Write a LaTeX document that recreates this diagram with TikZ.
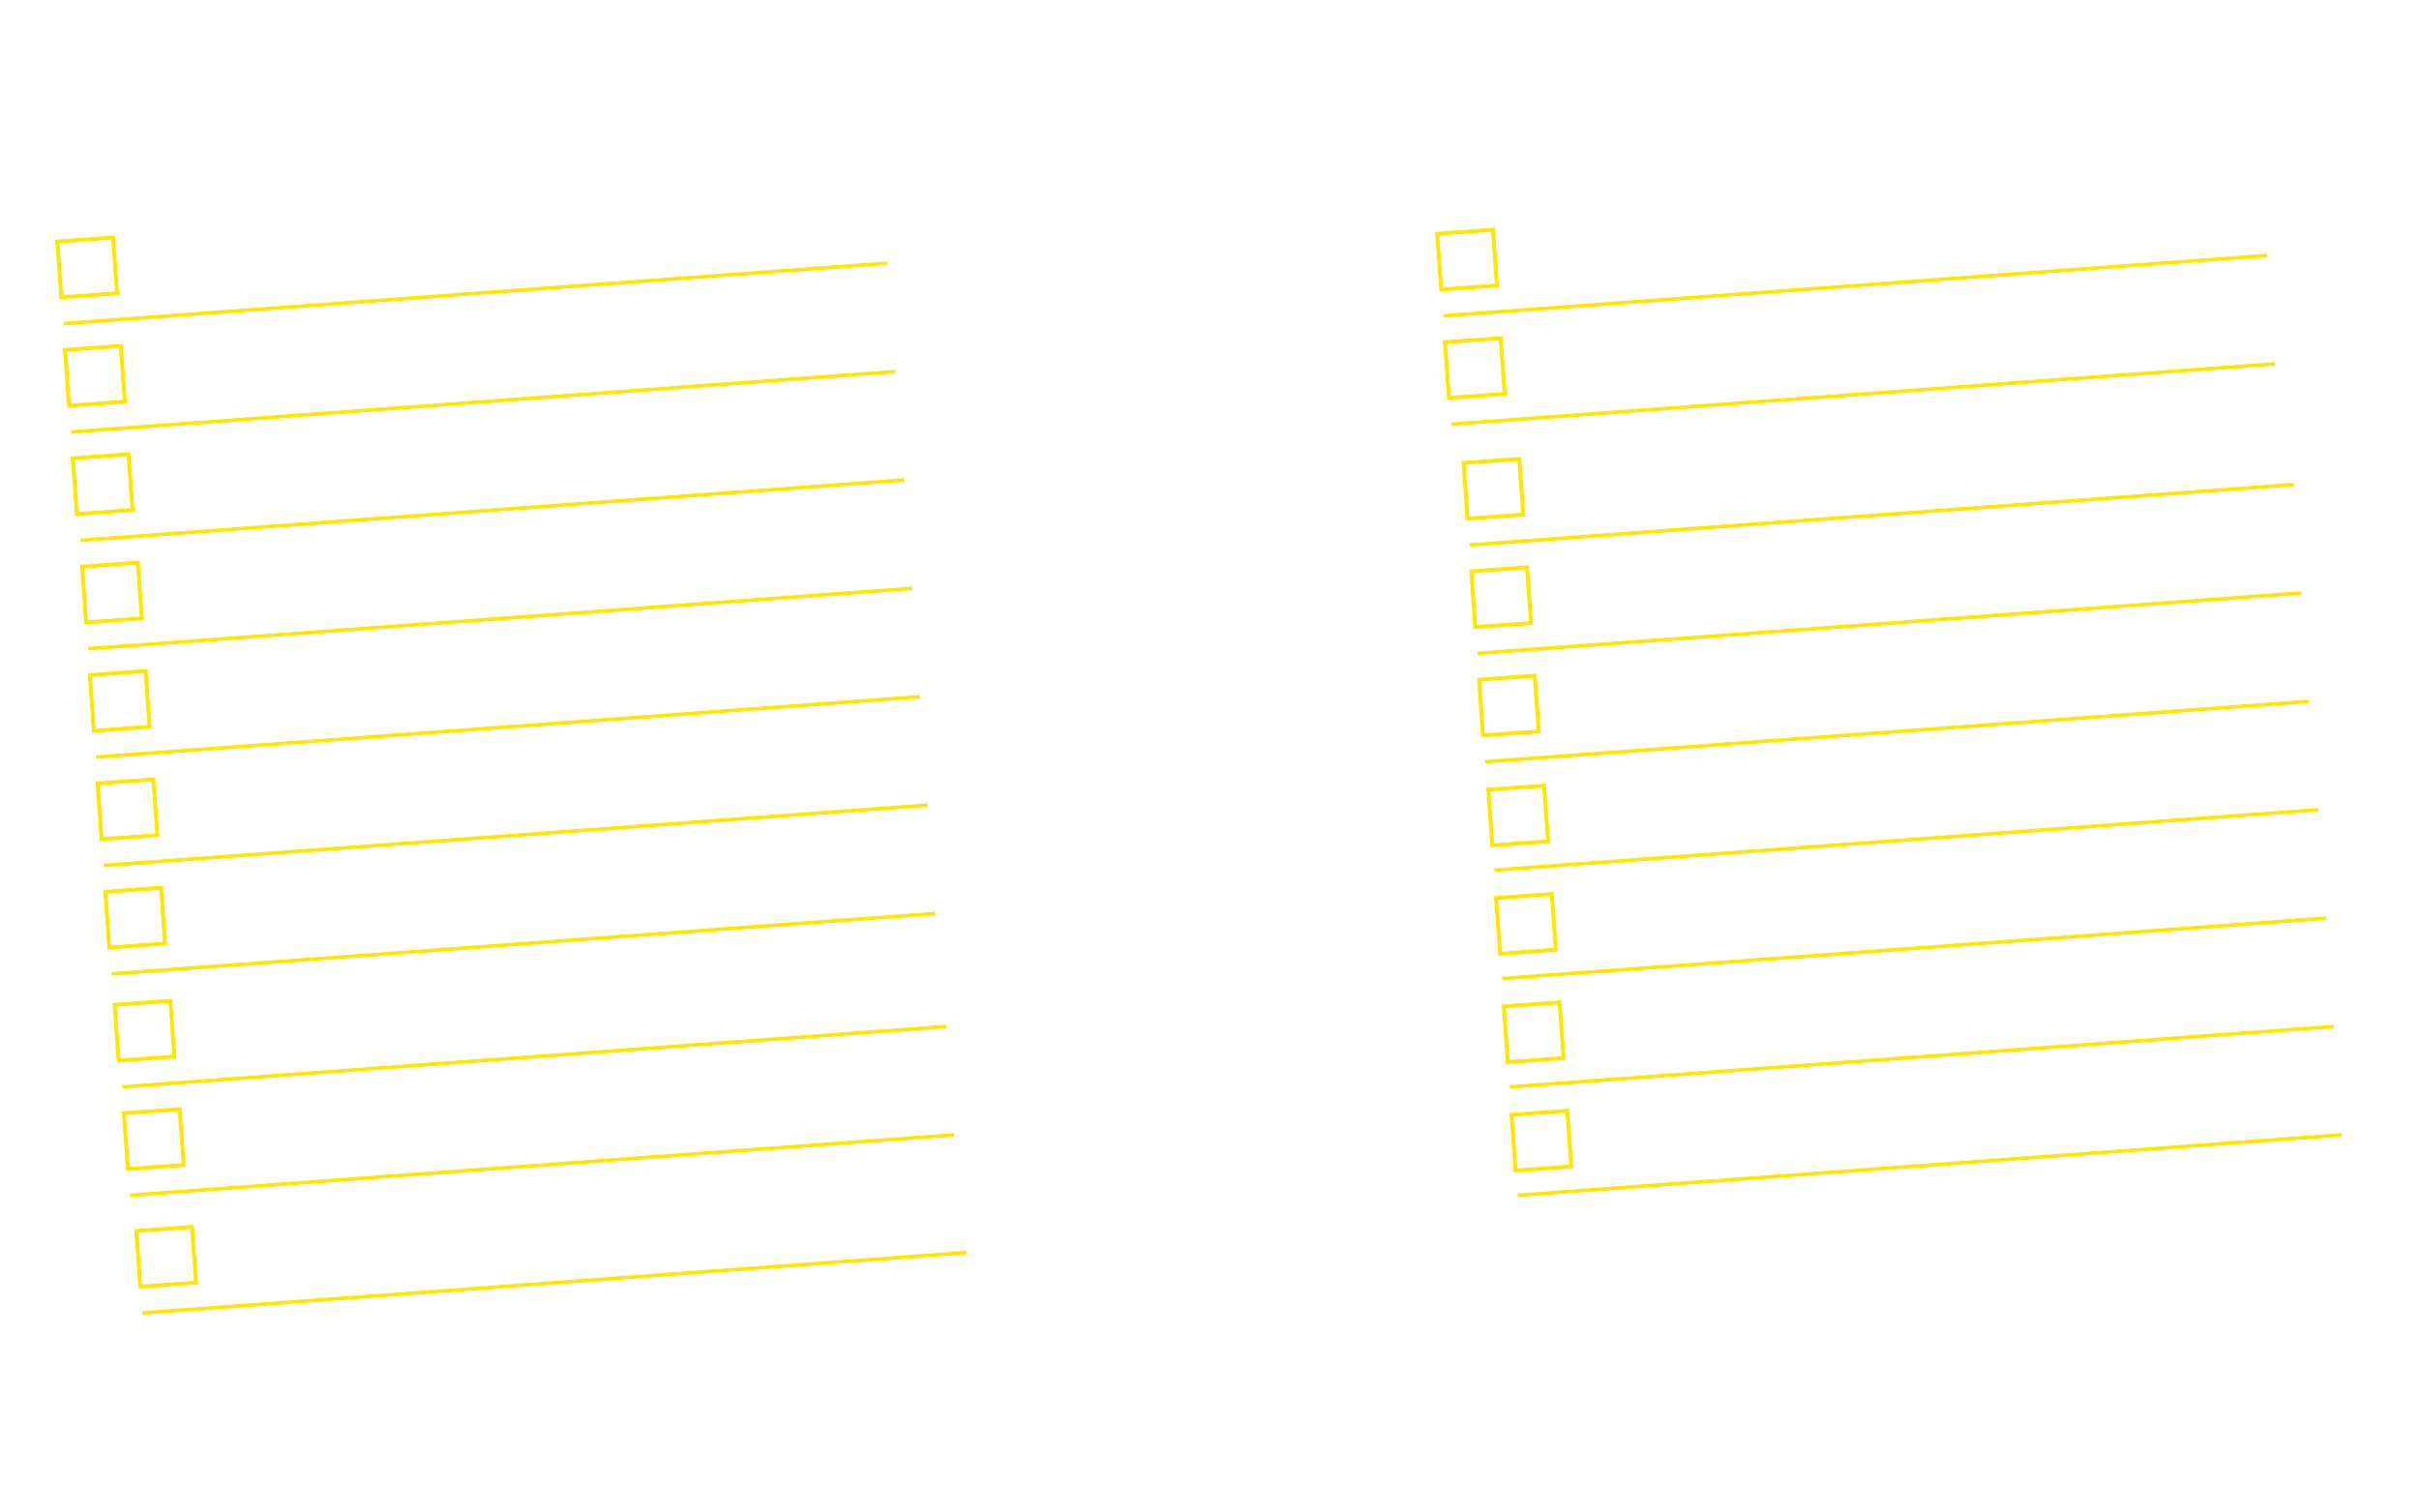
\documentclass[tikz,border=0pt]{standalone}
\begin{document}
\begin{tikzpicture}[x=0.02cm,y=-0.02cm,
  ln/.style={draw=yl,line width=1.3pt},
  bx/.style={draw=yl,line width=1.4pt}]
\definecolor{yl}{HTML}{FFE600}
\useasboundingbox[fill=white] (0,0) rectangle (1562,976);
\foreach \bx/\by/\lx/\ly in {37/156/41/209,42/226/46/279,47/296/52/349,53/366/57/419,58/436/62/489,63/506/67/559,68/576/72/629,74/649/79/702,80/719/84/772,88/795/92/848,
928/151/932/204,933/221/937/274,945/299/949/352,950/369/954/422,955/439/959/492,961/510/965/562,966/580/970/632,971/650/975/702,976/720/980/772}{
  \draw[bx] (\bx,\by) -- ++(36,-2.6) -- ++(2.6,36) -- ++(-36,2.6) -- cycle;
  \draw[ln] (\lx,\ly) -- ++(532,-39);
}
\end{tikzpicture}
\end{document}
